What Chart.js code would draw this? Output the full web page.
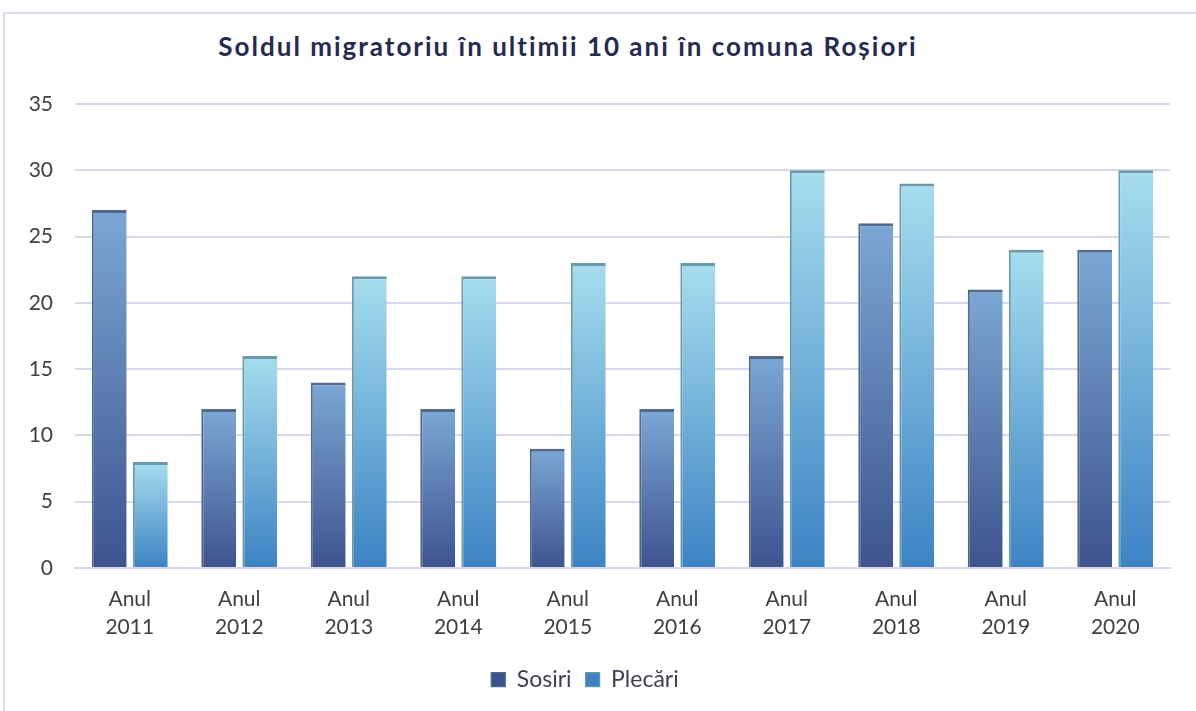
<!DOCTYPE html>
<html>
<head>
<meta charset="utf-8">
<script src="https://cdn.jsdelivr.net/npm/chart.js@4"></script>
<style>
  body { margin: 0; background: #fff; }
  #wrap { position: relative; width: 1196px; height: 711px; overflow: hidden; }
  #frame { position: absolute; left: 3px; top: 12px; width: 1200px; height: 720px; border: 2px solid #dcdcef; box-sizing: border-box; }
  #title { position: absolute; left: 0; width: 1136px; top: 30px; text-align: center;
           font: bold 26px Lato, sans-serif; letter-spacing: 2px; color: #262a52; }
  canvas { position: absolute; left: 0; top: 0; }
</style>
</head>
<body>
<div id="wrap">
  <div id="frame"></div>
  <div id="title">Soldul migratoriu în ultimii 10 ani în comuna Roșiori</div>
  <canvas id="chart" width="1196" height="711"></canvas>
</div>
<script>
const years = ["2011", "2012", "2013", "2014", "2015", "2016", "2017", "2018", "2019", "2020"];
const categories = years.map(y => ["Anul", y]);
const sosiri = [27, 12, 14, 12, 9, 12, 16, 26, 21, 24];
const plecari = [8, 16, 22, 22, 23, 23, 30, 29, 24, 30];
const seriesNames = ["Sosiri", "Plecări"];

function barFill(bottomColor, topColor) {
    return function (ctx) {
        const chart = ctx.chart;
        if (!chart.chartArea || ctx.raw === undefined) {
            const g = chart.ctx.createLinearGradient(0, 686, 0, 670);
            g.addColorStop(0, bottomColor);
            g.addColorStop(1, topColor);
            return g;
        }
        const y = chart.scales.y;
        const base = y.getPixelForValue(0);
        const top = y.getPixelForValue(ctx.raw);
        const g = chart.ctx.createLinearGradient(0, base, 0, top);
        g.addColorStop(0, bottomColor);
        g.addColorStop(1, topColor);
        return g;
    };
}

new Chart(document.getElementById("chart"), {
    type: "bar",
    data: {
        labels: categories,
        datasets: [
            {
                label: seriesNames[0],
                data: sosiri,
                backgroundColor: barFill("#3e538e", "#7ba7d5"),
                borderColor: "#52698a",
                borderWidth: { top: 3, left: 2, right: 0, bottom: 0 },
                borderSkipped: false
            },
            {
                label: seriesNames[1],
                data: plecari,
                backgroundColor: barFill("#3d83c4", "#a6ddee"),
                borderColor: "#6a9aa8",
                borderWidth: { top: 3, left: 2, right: 0, bottom: 0 },
                borderSkipped: false
            }
        ]
    },
    options: {
        responsive: false,
        animation: false,
        layout: { padding: { top: 104, right: 26, bottom: 10, left: 0 } },
        categoryPercentage: 0.75,
        barPercentage: 0.85,
        scales: {
            x: {
                grid: { display: false },
                border: { color: "#d8d8ec", width: 2 },
                ticks: { color: "#404040", font: { family: "Lato, sans-serif", size: 21, lineHeight: 1.35 }, padding: 9, maxRotation: 0 },
                afterFit: s => { s.height = 86; }
            },
            y: {
                min: 0,
                max: 35,
                ticks: { stepSize: 5, color: "#404040", font: { family: "Lato, sans-serif", size: 21 }, padding: 22 },
                grid: { color: "#d8d8ec", lineWidth: 2, drawTicks: false },
                border: { display: false },
                afterFit: s => { s.width = 75; }
            }
        },
        plugins: {
            legend: {
                position: "bottom",
                labels: { color: "#404055", font: { family: "Lato, sans-serif", size: 23 }, boxWidth: 14, boxHeight: 14, padding: 14 }
            },
            tooltip: { enabled: false }
        }
    }
});
</script>
</body>
</html>
